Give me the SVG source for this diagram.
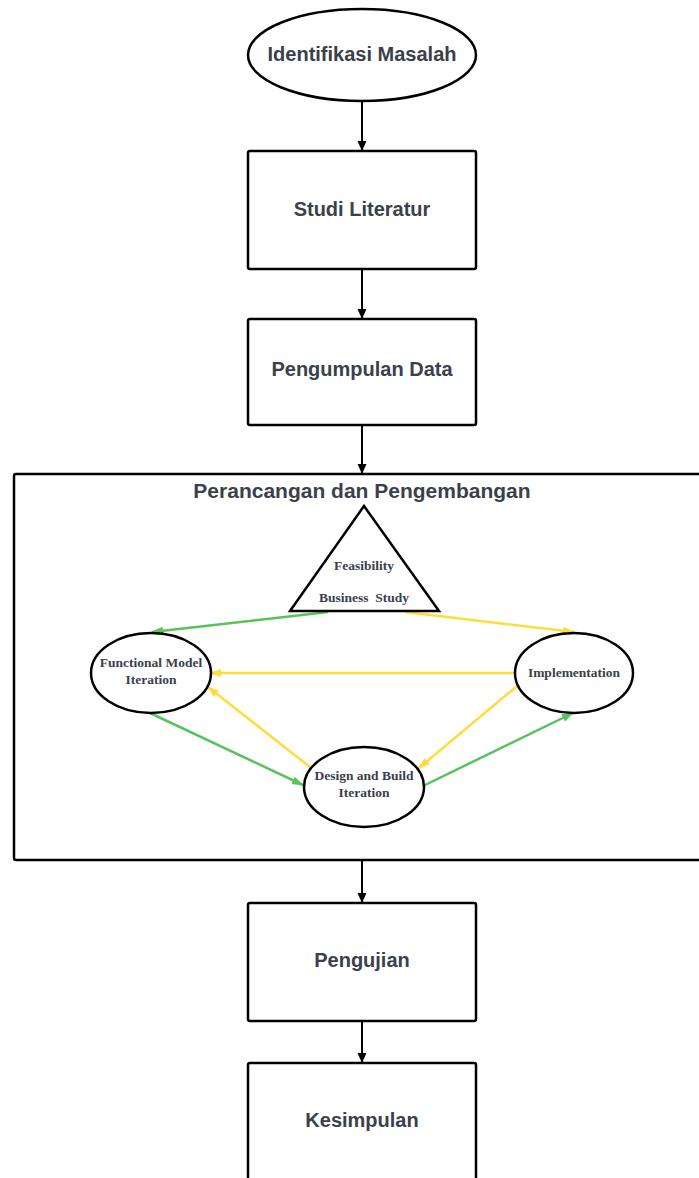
<svg xmlns="http://www.w3.org/2000/svg" width="699" height="1178" viewBox="0 0 699 1178">
<style>
.shape{fill:#fff;stroke:#000;stroke-width:2.5}
.t{font-family:"Liberation Sans",Arial,sans-serif;font-weight:bold;font-size:20px;fill:#3a414a;text-anchor:middle}
.tt{font-size:21px}
.s{font-family:"Liberation Serif","Times New Roman",serif;font-weight:bold;font-size:13.5px;fill:#3a414a;text-anchor:middle;white-space:pre}
.c{fill:none;stroke:#000;stroke-width:2}
.g{fill:none;stroke:#58c35a;stroke-width:2.5}
.y{fill:none;stroke:#ffdc3c;stroke-width:2.5}
</style>
<defs>
<marker id="ab" markerWidth="10" markerHeight="10" refX="9" refY="5" orient="auto" markerUnits="userSpaceOnUse"><path d="M0,0.5 L10,5 L0,9.5 Z" fill="#000"/></marker>
<marker id="ag" markerWidth="12" markerHeight="10" refX="11" refY="5" orient="auto" markerUnits="userSpaceOnUse"><path d="M0,1 L12,5 L0,9 Z" fill="#58c35a"/></marker>
<marker id="ay" markerWidth="12" markerHeight="10" refX="11" refY="5" orient="auto" markerUnits="userSpaceOnUse"><path d="M0,1 L12,5 L0,9 Z" fill="#ffdc3c"/></marker>
</defs>
<rect width="699" height="1178" fill="#fff"/>
<g id="container">
<rect class="shape" x="14" y="474" width="700" height="386" rx="2"/>
<text class="t tt" x="362" y="498">Perancangan dan Pengembangan</text>
</g>
<g id="connectors">
<line class="c" x1="362" y1="101" x2="362" y2="150" marker-end="url(#ab)"/>
<line class="c" x1="362" y1="269" x2="362" y2="318" marker-end="url(#ab)"/>
<line class="c" x1="362" y1="425" x2="362" y2="473" marker-end="url(#ab)"/>
<line class="c" x1="362" y1="861" x2="362" y2="902" marker-end="url(#ab)"/>
<line class="c" x1="362" y1="1021" x2="362" y2="1062" marker-end="url(#ab)"/>
<line class="g" x1="328" y1="612" x2="152" y2="632" marker-end="url(#ag)"/>
<line class="y" x1="405" y1="612" x2="574" y2="632" marker-end="url(#ay)"/>
<line class="y" x1="515" y1="673" x2="210" y2="673" marker-end="url(#ay)"/>
<line class="y" x1="310" y1="767" x2="208" y2="687" marker-end="url(#ay)"/>
<line class="g" x1="150" y1="713" x2="303" y2="785" marker-end="url(#ag)"/>
<line class="y" x1="517" y1="686" x2="419" y2="768" marker-end="url(#ay)"/>
<line class="g" x1="423" y1="786" x2="573" y2="713" marker-end="url(#ag)"/>
</g>
<g id="n1">
<ellipse class="shape" cx="362" cy="55" rx="114" ry="46"/>
<text class="t" x="362" y="61">Identifikasi Masalah</text>
</g>
<g id="n2">
<rect class="shape" x="248" y="151" width="228" height="118" rx="2"/>
<text class="t" x="362" y="216">Studi Literatur</text>
</g>
<g id="n3">
<rect class="shape" x="248" y="319" width="228" height="106" rx="2"/>
<text class="t" x="362" y="376">Pengumpulan Data</text>
</g>
<g id="n4">
<path class="shape" d="M364,506 L439,611 L290,611 Z"/>
<text class="s" x="364" y="570">Feasibility</text>
<text class="s" x="364" y="602" xml:space="preserve">Business  Study</text>
</g>
<g id="n5">
<ellipse class="shape" cx="151" cy="673" rx="60" ry="40"/>
<text class="s" x="151" y="667">Functional Model</text>
<text class="s" x="151" y="684">Iteration</text>
</g>
<g id="n6">
<ellipse class="shape" cx="574" cy="673" rx="59" ry="40"/>
<text class="s" x="574" y="677">Implementation</text>
</g>
<g id="n7">
<ellipse class="shape" cx="364" cy="787" rx="60" ry="40"/>
<text class="s" x="364" y="780">Design and Build</text>
<text class="s" x="364" y="797">Iteration</text>
</g>
<g id="n8">
<rect class="shape" x="248" y="903" width="228" height="118" rx="2"/>
<text class="t" x="362" y="967">Pengujian</text>
</g>
<g id="n9">
<rect class="shape" x="248" y="1063" width="228" height="130" rx="2"/>
<text class="t" x="362" y="1127">Kesimpulan</text>
</g>
</svg>
